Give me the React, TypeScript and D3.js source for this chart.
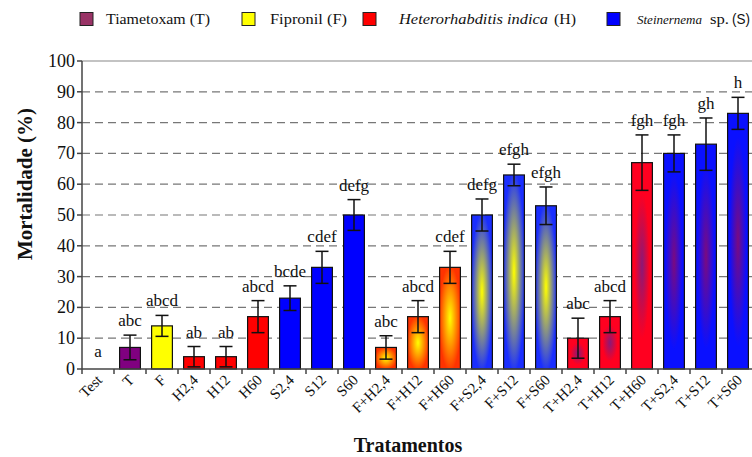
import React from 'react';
import * as d3 from 'd3';

const width = 752;
const height = 457;

const treatments = ['Test', 'T', 'F', 'H2,4', 'H12', 'H60', 'S2,4', 'S12', 'S60',
  'F+H2,4', 'F+H12', 'F+H60', 'F+S2,4', 'F+S12', 'F+S60',
  'T+H2,4', 'T+H12', 'T+H60', 'T+S2,4', 'T+S12', 'T+S60'];
const mortality = [0, 7, 14, 4, 4, 17, 23, 33, 50, 7, 17, 33, 50, 63, 53, 10, 17, 67, 70, 73, 83];
const errors = [0, 4, 3.4, 3.3, 3.3, 5.2, 4, 5.2, 5, 3.8, 5.2, 5.2, 5.2, 3.5, 6.1, 6.5, 5.2, 9, 6, 8.5, 5.2];
const letters = ['a', 'abc', 'abcd', 'ab', 'ab', 'abcd', 'bcde', 'cdef', 'defg',
  'abc', 'abcd', 'cdef', 'defg', 'efgh', 'efgh', 'abc', 'abcd', 'fgh', 'fgh', 'gh', 'h'];
// fill key per treatment
const fills = ['T', 'T', 'F', 'H', 'H', 'H', 'S', 'S', 'S',
  'FH', 'FH', 'FH', 'FS', 'FS', 'FS', 'TH', 'TH', 'TH', 'TS', 'TS', 'TS'];
const yTicks = [0, 10, 20, 30, 40, 50, 60, 70, 80, 90, 100];

const solid: Record<string, string> = { T: '#800080', F: '#ffff00', H: '#ff0000', S: '#0000ff' };
// gradient "from center": [center, edge, where the edge colour is reached]
const gradients: Record<string, [string, string, number]> = {
  FH: ['#ffff00', '#ff3300', 0.95],
  FS: ['#ffff00', '#1a2eff', 0.95],
  TH: ['#8a1878', '#ff0020', 0.65],
  TS: ['#7a0a80', '#0a10ff', 0.75],
};

const legendBoxes = [
  { color: '#993366', x: 80 },
  { color: '#ffff00', x: 242 },
  { color: '#ff0000', x: 363 },
  { color: '#0000ff', x: 607 },
];
// legend text pieces: [text, x, width, size, italic, sans]
const legendTexts: [string, number, number, number, boolean, boolean][] = [
  ['Tiametoxam (T)', 106, 104, 15.5, false, false],
  ['Fipronil (F)', 270, 77, 15.5, false, false],
  ['Heterorhabditis indica', 399, 149, 15.5, true, false],
  ['(H)', 554, 22, 15.5, false, false],
  ['Steinernema', 637, 65, 13.5, true, false],
  ['sp.', 710, 19, 15.5, false, false],
  ['(S)', 732, 18, 15, false, true],
];

const left = 82, right = 754, top = 61, bottom = 369;

export default function App() {
  const x = d3.scaleBand<string>().domain(treatments).range([left, right])
    .paddingInner(0.35).paddingOuter(0.175);
  const y = d3.scaleLinear().domain([0, 100]).range([bottom, top]);
  const step = x.step();
  const bw = x.bandwidth();
  const font = 'Liberation Serif, Times New Roman, serif';

  return (
    <svg width={width} height={height} style={{ position: 'absolute', left: 0, top: 0, background: '#fff' }}
      fontFamily={font}>
      <defs>
        {Object.entries(gradients).map(([k, [c, e, o]]) => (
          <radialGradient key={k} id={`g-${k}`} cx="0.5" cy="0.5" r="0.55">
            <stop offset="0" stopColor={c} />
            <stop offset={o} stopColor={e} />
            <stop offset="1" stopColor={e} />
          </radialGradient>
        ))}
      </defs>

      {/* legend */}
      {legendBoxes.map((d, i) => (
        <rect key={i} x={d.x} y={12.5} width={13} height={13} fill={d.color} stroke="#222" strokeWidth="1" />
      ))}
      {legendTexts.map(([s, tx, len, size, it, sans], i) => (
        <text key={i} x={tx} y={24} fontSize={size} fill="#111" textLength={len} lengthAdjust="spacingAndGlyphs"
          fontStyle={it ? 'italic' : 'normal'}
          fontFamily={sans ? 'Liberation Sans, Arial, sans-serif' : font}>{s}</text>
      ))}

      {/* grid */}
      {yTicks.filter(t => t > 0 && t < 100).map(t => (
        <line key={t} x1={left} x2={width} y1={y(t)} y2={y(t)} stroke="#777" strokeWidth="1.2" strokeDasharray="8,5" />
      ))}
      <line x1={left} x2={width} y1={y(100)} y2={y(100)} stroke="#888" strokeWidth="1.2" />

      {/* bars */}
      {treatments.map((t, i) => {
        const f = fills[i];
        const fill = solid[f] ? solid[f] : `url(#g-${f})`;
        const x0 = x(t)!;
        const cx = x0 + bw / 2;
        const hi = mortality[i] + errors[i];
        const lo = mortality[i] - errors[i];
        const ly = Math.min(y(hi) - 9, y(0) - 12);
        return (
          <g key={t}>
            <rect x={x0} y={y(mortality[i])} width={bw} height={y(0) - y(mortality[i])}
              fill={fill} stroke="#111" strokeWidth="1.2" />
            {errors[i] > 0 && (
              <g stroke="#111" strokeWidth="1.5">
                <line x1={cx} x2={cx} y1={y(hi)} y2={y(lo)} />
                <line x1={cx - 6.5} x2={cx + 6.5} y1={y(hi)} y2={y(hi)} />
                <line x1={cx - 6.5} x2={cx + 6.5} y1={y(lo)} y2={y(lo)} />
              </g>
            )}
            <text x={cx} y={ly} textAnchor="middle" fontSize="17" fill="#111">{letters[i]}</text>
          </g>
        );
      })}

      {/* axes */}
      <line x1={left} x2={left} y1={top} y2={bottom} stroke="#444" strokeWidth="1.5" />
      <line x1={left} x2={width} y1={bottom} y2={bottom} stroke="#444" strokeWidth="1.5" />
      {yTicks.map(t => (
        <g key={t}>
          <line x1={left - 5} x2={left} y1={y(t)} y2={y(t)} stroke="#444" strokeWidth="1.5" />
          <text x={left - 7} y={y(t) + 6} textAnchor="end" fontSize="18" fill="#111">{t}</text>
        </g>
      ))}
      {d3.range(treatments.length + 1).map(i => {
        const tx = left + i * step;
        return <line key={i} x1={tx} x2={tx} y1={bottom} y2={bottom + 5} stroke="#444" strokeWidth="1.5" />;
      })}
      {treatments.map(t => {
        const cx = x(t)! + bw / 2 + 5;
        return (
          <text key={t} transform={`translate(${cx},${bottom + 12}) rotate(-45)`} textAnchor="end"
            fontSize="15" fill="#111">{t}</text>
        );
      })}

      {/* titles */}
      <text x={408} y={452} textAnchor="middle" fontSize="20" fontWeight="bold" fill="#111">Tratamentos</text>
      <text transform={`translate(32,${184}) rotate(-90)`} textAnchor="middle" fontSize="21" fontWeight="bold" fill="#111">
        Mortalidade (%)
      </text>
    </svg>
  );
}
